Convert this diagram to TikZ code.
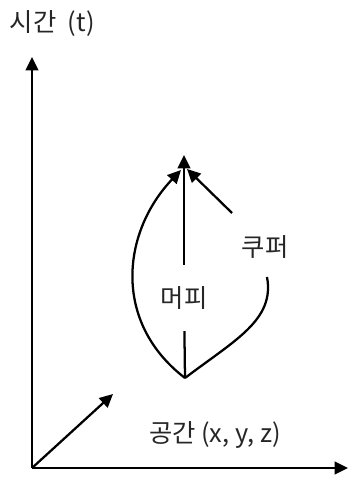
\documentclass[tikz,border=0pt]{standalone}
\usepackage{fontspec}
\setmainfont{Noto Sans CJK KR}
\usetikzlibrary{arrows.meta,positioning}

\begin{document}
\begin{tikzpicture}[
  x=0.75pt, y=-0.75pt,
  ax/.style={line width=1.7pt, -{Triangle[length=10pt, width=9.5pt]}},
  ln/.style={line width=1.7pt},
  lbl/.style={draw=none, font=\fontsize{19}{22}\selectfont, text=black!85, inner sep=2pt}
]
  \useasboundingbox (0,0) rectangle (350,481);
  % axes
  \coordinate (O) at (32,468);
  \coordinate (T) at (32,57);
  \coordinate (S) at (348,468);
  \coordinate (D) at (113,394);
  \draw[ax] (O) -- (T);
  \draw[ax] (O) -- (S);
  \draw[ax] (O) -- (D);
  \node[lbl, anchor=west] (tlab) at (7,24) {시간\hspace{0.45em}(t)};
  \node[lbl] (slab) at (215,435) {공간 (x, y, z)};
  % paths
  \coordinate (B) at (185,378);
  \coordinate (A) at (184,155);
  \coordinate (AL) at (181,170);
  \coordinate (AR) at (187,169);
  \node[lbl, inner ysep=16pt] (mlab) at (184,298) {머피};
  \draw[ln] (B) -- (mlab);
  \draw[ax] (mlab) -- (A);
  \draw[ax] (B) .. controls (112,322) and (122,232) .. (AL);
  \node[lbl] (klab) at (265,247) {쿠퍼};
  \coordinate (K1) at (267,277);
  \coordinate (K2) at (232,213);
  \draw[ln] (B) .. controls (235,340) and (275,320) .. (K1);
  \draw[ax] (K2) -- (AR);
\end{tikzpicture}
\end{document}
